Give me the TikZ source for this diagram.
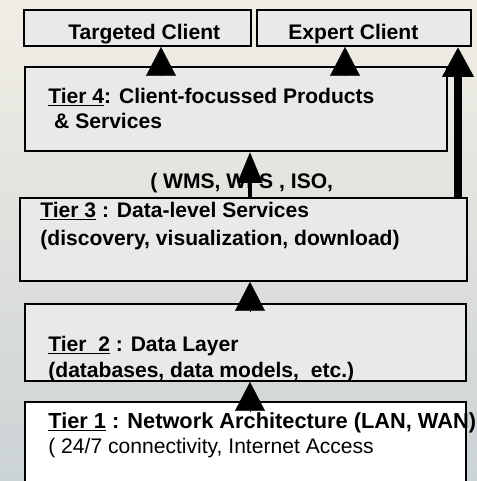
\documentclass[tikz,border=0pt]{standalone}
\usepackage{fontspec}
\setmainfont{Liberation Sans}
\usetikzlibrary{positioning, arrows.meta}

\definecolor{boxgrey}{RGB}{233,233,233}
\definecolor{bgtop}{RGB}{241,238,229}
\definecolor{bgmid}{RGB}{226,229,222}
\definecolor{bgbot}{RGB}{204,211,213}

\begin{document}
\begin{tikzpicture}[x=0.02cm, y=-0.02cm,
    tierbox/.style={draw, line width=1.1pt, fill=boxgrey, rectangle, inner sep=0pt, anchor=north west},
    tiertext/.style={anchor=base west, inner sep=0pt, font=\fontsize{12}{14}\selectfont\bfseries},
    plaintext/.style={anchor=base west, inner sep=0pt, font=\fontsize{12}{14}\selectfont},
    headonly/.style={line width=0.2pt, -{Triangle[width=0.6cm, length=0.58cm]}}]
        % background
        \useasboundingbox (0,0) rectangle (477,481);
        \clip (0,0) rectangle (477,481);
        \shade[top color=bgtop, middle color=bgmid, bottom color=bgbot] (0,0) rectangle (477,481);

        % clients
        \node[tierbox, minimum width=4.54cm, minimum height=0.72cm] (tc) at (23,9) {};
        \node[tierbox, minimum width=4.28cm, minimum height=0.72cm] (ec) at (256,9) {};
        \node[tiertext] at (68,39) {Targeted Client};
        \node[tiertext] at (288,39) {Expert Client};

        % tiers
        \node[tierbox, minimum width=8.44cm, minimum height=1.68cm] (t4) at (24,66) {};
        \node[tierbox, minimum width=8.94cm, minimum height=1.66cm] (t3) at (19,197) {};
        \node[tierbox, minimum width=8.82cm, minimum height=1.54cm] (t2) at (24,303) {};
        \node[tierbox, fill=white, minimum width=8.82cm, minimum height=2.2cm] (t1) at (24,401) {};

        \node[tiertext] at (48,103) {\underline{Tier 4}: Client-focussed Products};
        \node[tiertext] at (48,128) {\ \& Services};
        \node[tiertext] at (150,188) {( WMS, WFS , ISO,};
        \node[tiertext] at (40,217) {\underline{Tier 3} : Data-level Services};
        \node[tiertext] at (40,245) {(discovery, visualization, download)};
        \node[tiertext] at (48,351) {\underline{Tier~~2} : Data Layer};
        \node[tiertext] at (48,377) {(databases, data models,~ etc.)};
        \node[tiertext, font=\fontsize{12.4}{14}\selectfont\bfseries] at (48,428) {\underline{Tier 1} : Network Architecture (LAN, WAN)};
        \node[plaintext] at (48,453) {( 24/7 connectivity, Internet Access};

        % arrows
        \coordinate (a1) at (161,75);
        \coordinate (a2) at (345,75);
        \coordinate (a3) at (458,197);
        \coordinate (a4) at (250,197);
        \coordinate (a5) at (250,312);
        \coordinate (a6) at (250,411);

        \draw[headonly] (a1) -- (a1 |- tc.south);
        \draw[headonly] (a2) -- (a2 |- ec.south);
        \draw[line width=4pt, -{Triangle[width=0.6cm, length=0.6cm]}] (a3) -- (a3 |- ec.south);
        \draw[line width=2.8pt, -{Triangle[width=0.48cm, length=0.62cm]}] (a4) -- (a4 |- t4.south);
        \draw[headonly] (a5) -- (a5 |- t3.south);
        \draw[headonly] (a6) -- (a6 |- t2.south);
\end{tikzpicture}
\end{document}
